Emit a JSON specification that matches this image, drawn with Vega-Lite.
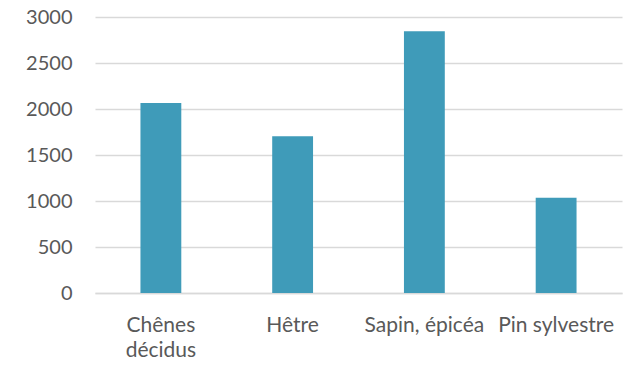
{
  "$schema": "https://vega.github.io/schema/vega-lite/v6.json",
  "autosize": {"type": "none"},
  "width": 527,
  "height": 276,
  "padding": {"left": 95, "top": 17, "right": 11, "bottom": 72},
  "background": "white",
  "config": {"view": {"stroke": null}, "font": "Lato"},
  "data": {"values": [
    {"espece": "Chênes décidus", "valeur": 2065},
    {"espece": "Hêtre", "valeur": 1705},
    {"espece": "Sapin, épicéa", "valeur": 2845},
    {"espece": "Pin sylvestre", "valeur": 1035}
  ]},
  "mark": {"type": "bar", "color": "#3F9BB9"},
  "encoding": {
    "x": {
      "field": "espece", "type": "nominal", "sort": null,
      "scale": {"paddingInner": 0.69, "paddingOuter": 0.345},
      "axis": {
        "title": null, "labelAngle": 0, "ticks": false,
        "domainColor": "#D9D9D9", "domainWidth": 1.5,
        "labelColor": "#595959", "labelFontSize": 21, "labelFont": "Lato",
        "labelPadding": 21, "labelLimit": 0, "labelLineHeight": 25,
        "labelExpr": "datum.label == 'Chênes décidus' ? ['Chênes', 'décidus'] : datum.label"
      }
    },
    "y": {
      "field": "valeur", "type": "quantitative",
      "scale": {"domain": [0, 3000], "nice": false},
      "axis": {
        "title": null, "values": [0, 500, 1000, 1500, 2000, 2500, 3000],
        "format": "d",
        "domain": false, "ticks": false,
        "gridColor": "#D9D9D9", "gridWidth": 1.5,
        "labelColor": "#595959", "labelFontSize": 20, "labelFont": "Lato",
        "labelPadding": 23
      }
    }
  }
}
